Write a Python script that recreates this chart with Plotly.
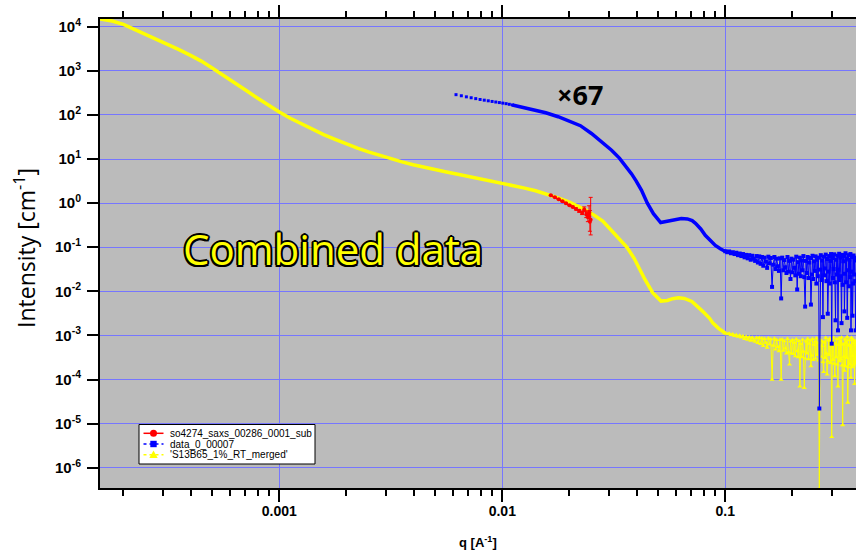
import plotly.graph_objects as go

# ---------------- data ----------------
# merged curve ('S13B65_1%_RT_merged'), smooth part up to q = 0.1
merged_q = [1.57e-4, 1.78e-4, 2.0e-4, 2.24e-4, 2.51e-4, 2.82e-4, 3.16e-4, 3.55e-4, 3.98e-4, 4.47e-4,
            5.0e-4, 5.62e-4, 6.31e-4, 7.08e-4, 7.94e-4, 8.91e-4, 1.0e-3, 1.12e-3, 1.26e-3, 1.41e-3,
            1.58e-3, 1.78e-3, 2.0e-3, 2.24e-3, 2.51e-3, 2.82e-3, 3.16e-3, 3.55e-3, 3.98e-3, 4.47e-3,
            5.0e-3, 5.62e-3, 6.31e-3, 7.08e-3, 7.94e-3, 8.91e-3, 1.0e-2, 1.12e-2, 1.26e-2, 1.41e-2,
            1.58e-2, 1.78e-2, 2.0e-2, 2.21e-2, 2.4e-2, 2.63e-2, 2.82e-2, 3.0e-2, 3.35e-2, 3.63e-2,
            3.9e-2, 4.11e-2, 4.36e-2, 4.72e-2, 5.15e-2, 5.5e-2, 5.8e-2, 6.17e-2, 6.55e-2, 7.08e-2,
            7.4e-2, 7.94e-2, 8.5e-2, 8.8e-2, 9.33e-2, 0.100]
merged_I = [14960, 13490, 11350, 8810, 6760, 5130, 3980, 3020, 2265, 1660,
            1160, 794, 537, 363, 245, 168, 116, 84, 62.4, 46.8,
            35.9, 27.9, 21.9, 17.6, 14.5, 12.0, 10.1, 8.6, 7.4, 6.46,
            5.69, 5.07, 4.52, 4.03, 3.59, 3.20, 2.82, 2.48, 2.19, 1.91,
            1.60, 1.32, 1.05, 0.83, 0.67, 0.50, 0.39, 0.28, 0.158, 0.098,
            0.056, 0.032, 0.0186, 0.0093, 0.0060, 0.0062, 0.0068, 0.0071, 0.0069, 0.0059,
            0.0049, 0.00347, 0.00245, 0.0019, 0.00145, 0.00112]

# high-q grid shared by both wide-angle series
tail_q = [0.100, 0.102, 0.104, 0.106, 0.108, 0.110, 0.112, 0.114, 0.116, 0.118,
          0.120, 0.122, 0.124, 0.126, 0.128, 0.130, 0.132, 0.134, 0.136, 0.138,
          0.140, 0.142, 0.144, 0.146, 0.148, 0.150, 0.152, 0.154, 0.156, 0.158,
          0.160, 0.162, 0.164, 0.166, 0.168, 0.170, 0.172, 0.174, 0.176, 0.178,
          0.180, 0.182, 0.184, 0.186, 0.188, 0.190, 0.192, 0.194, 0.196, 0.198,
          0.200, 0.202, 0.204, 0.206, 0.208, 0.210, 0.212, 0.214, 0.216, 0.218,
          0.220, 0.222, 0.224, 0.226, 0.228, 0.230, 0.232, 0.234, 0.236, 0.238,
          0.240, 0.242, 0.244, 0.246, 0.248, 0.250, 0.252, 0.254, 0.256, 0.258,
          0.260, 0.262, 0.264, 0.266, 0.268, 0.270, 0.272, 0.274, 0.276, 0.278,
          0.280, 0.282, 0.284, 0.286, 0.288, 0.290, 0.292, 0.294, 0.296, 0.298,
          0.300, 0.302, 0.304, 0.306, 0.308, 0.310, 0.312, 0.314, 0.316, 0.318,
          0.320, 0.322, 0.324, 0.326, 0.328, 0.330, 0.332, 0.334, 0.336, 0.338,
          0.340, 0.342, 0.344, 0.346, 0.348, 0.350, 0.352, 0.354, 0.356, 0.358,
          0.360, 0.362, 0.364, 0.366, 0.368, 0.370, 0.372, 0.374, 0.376, 0.378,
          0.380, 0.382, 0.384, 0.386]

merged_tail_I = [
    11.2e-4, 10.7e-4, 11.0e-4, 10.3e-4, 10.6e-4, 9.8e-4, 10.2e-4, 9.4e-4, 9.9e-4, 9.0e-4,
    9.6e-4, 8.3e-4, 9.3e-4, 8.0e-4, 9.1e-4, 7.6e-4, 8.9e-4, 7.8e-4, 7.2e-4, 8.8e-4,
    6.8e-4, 8.8e-4, 6.4e-4, 8.6e-4, 5.8e-4, 8.4e-4, 6.9e-4, 5.3e-4, 8.6e-4, 6.3e-4,
    8.2e-4, 1.0e-4, 5.9e-4, 8.5e-4, 4.8e-4, 7.9e-4, 5.5e-4, 4.4e-4, 8.0e-4, 1.0e-4,
    8.1e-4, 4.5e-4, 7.4e-4, 5.1e-4, 3.9e-4, 8.4e-4, 4.2e-4, 2.2e-4, 7.3e-4, 3.9e-4,
    7.9e-4, 3.8e-4, 6.9e-4, 3.4e-4, 8.2e-4, 4.4e-4, 3.2e-4, 7.5e-4, 0.7e-4, 6.4e-4,
    3.2e-4, 8.0e-4, 4.3e-4, 0.65e-4, 3.0e-4, 7.3e-4, 3.9e-4, 8.4e-4, 2.9e-4, 6.5e-4,
    7.7e-4, 2.0e-4, 3.5e-4, 8.3e-4, 2.8e-4, 6.1e-4, 7.2e-4, 3.0e-4, 8.6e-4, 3.6e-4,
    6.8e-4, 2.7e-4, 3.3e-7, 8.0e-4, 3.3e-4, 5.8e-4, 7.4e-4, 2.5e-4, 1.5e-4, 7.0e-4,
    3.1e-4, 8.8e-4, 3.9e-4, 1.3e-4, 2.6e-4, 7.7e-4, 3.6e-4, 8.4e-4, 2.4e-4, 6.4e-4,
    5.0e-6, 7.2e-4, 2.8e-4, 8.9e-4, 2.3e-4, 1.2e-4, 6.6e-4, 3.2e-4, 8.2e-4, 2.2e-4,
    0.7e-4, 6.1e-4, 8.6e-4, 2.6e-4, 7.3e-4, 2.9e-4, 9.0e-4, 2.1e-4, 9.3e-6, 6.3e-4,
    3.3e-4, 1.6e-4, 8.1e-4, 2.0e-4, 7.0e-4, 3.1e-4, 9.2e-4, 0.3e-4, 1.9e-4, 6.0e-4,
    7.8e-4, 2.2e-4, 5.8e-4, 1.1e-4, 8.8e-4, 1.9e-4, 3.4e-4, 8.0e-4, 2.1e-4, 6.8e-4,
    0.8e-4, 7.5e-4, 2.3e-4, 6.0e-4]

# data_0_00007 (scaled x67): sparse start, smooth part, then the high-q grid
waxs_start_q = [0.0062, 0.00655, 0.0069, 0.00725, 0.0076, 0.00795, 0.0083, 0.00865,
                0.0090, 0.00935, 0.0097, 0.01005, 0.0104, 0.01075, 0.0111]
waxs_start_I = [288, 272, 257, 245, 234, 224, 216, 209, 202, 196, 190.5, 185, 180, 174, 168]

waxs_q = [0.0111, 0.0126, 0.0141, 0.01567, 0.0178, 0.0204, 0.0224, 0.0251, 0.0282, 0.0309,
          0.0335, 0.0356, 0.0380, 0.0398, 0.0421, 0.0447, 0.0476, 0.0513, 0.0550, 0.0589,
          0.0635, 0.0676, 0.0710, 0.0735, 0.0776, 0.0813, 0.0860, 0.0902, 0.0950, 0.100]
waxs_I = [168, 145, 126, 112, 91, 70, 57, 38, 24, 15.8,
          10.5, 7.2, 4.6, 3.2, 1.95, 1.0, 0.575, 0.363, 0.39, 0.427,
          0.447, 0.437, 0.40, 0.347, 0.26, 0.186, 0.135, 0.110, 0.092, 0.080]

waxs_tail_I = [
    0.081, 0.077, 0.080, 0.073, 0.077, 0.070, 0.075, 0.066, 0.072, 0.063,
    0.070, 0.059, 0.067, 0.056, 0.066, 0.052, 0.064, 0.055, 0.049, 0.063,
    0.045, 0.062, 0.042, 0.060, 0.038, 0.058, 0.047, 0.034, 0.061, 0.043,
    0.057, 0.0126, 0.040, 0.060, 0.032, 0.055, 0.037, 0.029, 0.056, 0.0069,
    0.058, 0.030, 0.051, 0.035, 0.026, 0.060, 0.028, 0.049, 0.019, 0.055,
    0.027, 0.052, 0.034, 0.023, 0.061, 0.011, 0.046, 0.025, 0.058, 0.022,
    0.050, 0.030, 0.063, 0.021, 0.0045, 0.049, 0.026, 0.060, 0.020, 0.045,
    0.057, 0.005, 0.024, 0.064, 0.019, 0.048, 0.029, 0.062, 0.015, 0.052,
    0.022, 0.058, 2.2e-5, 0.031, 0.066, 0.018, 0.050, 0.0026, 0.061, 0.023,
    0.033, 0.068, 0.017, 0.054, 0.0031, 0.028, 0.063, 0.015, 0.049, 0.070,
    0.00065, 0.057, 0.020, 0.032, 0.069, 0.016, 0.0022, 0.052, 0.024, 0.064,
    0.0013, 0.031, 0.071, 0.018, 0.058, 0.022, 0.0019, 0.067, 0.014, 0.048,
    0.062, 0.0035, 0.025, 0.073, 0.016, 0.055, 0.0025, 0.030, 0.066, 0.013,
    0.052, 0.021, 0.070, 0.0013, 0.028, 0.060, 0.0028, 0.015, 0.065, 0.024,
    0.058, 0.017, 0.0013, 0.050]

# so4274_saxs_00286_0001_sub with asymmetric error bars
saxs_q = [0.0165, 0.0172, 0.0179, 0.0186, 0.0193, 0.0200, 0.0207, 0.0214, 0.0221, 0.0228,
          0.0233, 0.0238, 0.0242, 0.0245, 0.0247, 0.0249]
saxs_I = [1.50, 1.36, 1.22, 1.10, 0.99, 0.90, 0.82, 0.74, 0.67, 0.60,
          0.72, 0.55, 0.48, 0.62, 0.38, 0.42]
saxs_err_plus = [0.03, 0.03, 0.03, 0.03, 0.03, 0.03, 0.03, 0.04, 0.05, 0.06,
                 0.10, 0.12, 0.15, 0.25, 0.30, 0.93]
saxs_err_minus = [0.03, 0.03, 0.03, 0.03, 0.03, 0.03, 0.03, 0.04, 0.05, 0.05,
                  0.06, 0.08, 0.10, 0.12, 0.15, 0.23]

legend_names = ["so4274_saxs_00286_0001_sub", "data_0_00007", "'S13B65_1%_RT_merged'"]

x_major = [0.001, 0.01, 0.1]
x_major_text = ["0.001", "0.01", "0.1"]
y_major_exp = [4, 3, 2, 1, 0, -1, -2, -3, -4, -5, -6]

# ---------------- styling ----------------
RED = "#ff0000"
BLUE = "#0000ff"
YELLOW = "#ffff00"
GRID = "rgb(118,118,255)"
TICK_FONT = "Liberation Sans, Arial, sans-serif"
TEXT_FONT = "Open Sans, Noto Sans, sans-serif"

W, H = 856, 550
M_L, M_R, M_T, M_B = 100, 0, 19, 62
PLOT_W = W - M_L - M_R
PLOT_H = H - M_T - M_B


def px(xp):
    """page pixel x -> paper x"""
    return (xp - M_L) / PLOT_W


def py(yp):
    """page pixel y -> paper y"""
    return (H - M_B - yp) / PLOT_H


fig = go.Figure()

# merged curve
fig.add_trace(go.Scatter(x=merged_q, y=merged_I, mode="lines",
                         line=dict(color=YELLOW, width=3.5), showlegend=False))
fig.add_trace(go.Scatter(x=tail_q, y=merged_tail_I, mode="lines+markers",
                         line=dict(color=YELLOW, width=1),
                         marker=dict(symbol="triangle-up", size=4.5, color=YELLOW),
                         showlegend=False))

# wide-angle curve (x67)
fig.add_trace(go.Scatter(x=waxs_start_q, y=waxs_start_I, mode="markers",
                         marker=dict(symbol="square", size=3, color=BLUE), showlegend=False))
fig.add_trace(go.Scatter(x=waxs_q, y=waxs_I, mode="lines",
                         line=dict(color=BLUE, width=3.5), showlegend=False))
fig.add_trace(go.Scatter(x=tail_q, y=waxs_tail_I, mode="lines+markers",
                         line=dict(color=BLUE, width=1),
                         marker=dict(symbol="square", size=4, color=BLUE),
                         showlegend=False))

# SAXS segment
fig.add_trace(go.Scatter(x=saxs_q, y=saxs_I, mode="lines+markers",
                         line=dict(color=RED, width=1.5),
                         marker=dict(symbol="circle", size=4, color=RED),
                         error_y=dict(type="data", symmetric=False, array=saxs_err_plus,
                                      arrayminus=saxs_err_minus, color=RED,
                                      thickness=1, width=2),
                         showlegend=False))

minor_x = [m * 10.0 ** e for e in (-4, -3, -2, -1) for m in range(2, 10)]

fig.update_xaxes(
    type="log", range=[-3.804, -0.414],
    tickmode="array", tickvals=x_major, ticktext=[f"<b>{t}</b>" for t in x_major_text],
    ticks="outside", ticklen=12, tickwidth=2, tickcolor="black",
    ticklabelstandoff=-3,
    tickfont=dict(family=TICK_FONT, size=14, color="black"),
    showline=True, linewidth=2, linecolor="black", mirror="ticks",
    showgrid=True, gridcolor=GRID, gridwidth=1,
    minor=dict(tickmode="array", tickvals=minor_x, ticks="outside", ticklen=6,
               tickwidth=1.5, tickcolor="black", showgrid=False),
    zeroline=False,
)
fig.update_yaxes(
    type="log", range=[-6.46, 4.175],
    tickmode="array", tickvals=[10.0 ** e for e in y_major_exp],
    ticktext=[f"<b>10<sup>{e}</sup></b>" for e in y_major_exp],
    ticks="outside", ticklen=11, tickwidth=2, tickcolor="black",
    ticklabelstandoff=3,
    tickfont=dict(family=TICK_FONT, size=15, color="black"),
    showline=True, linewidth=2, linecolor="black", mirror=False,
    showgrid=True, gridcolor=GRID, gridwidth=1,
    zeroline=False,
)

# ---------------- legend box ----------------
shapes = [dict(type="rect", xref="paper", yref="paper",
               x0=px(139), x1=px(315), y0=py(464), y1=py(424.5),
               fillcolor="white", line=dict(color="black", width=1), layer="above")]
annotations = []
row_y = [433.3, 444.0, 454.7]
line_x0, line_x1, mark_x, text_x = 143.5, 163.5, 153.5, 167.5
legend_lines = [dict(color=RED, width=1.5, dash="solid"),
                dict(color=BLUE, width=1.5, dash="dot"),
                dict(color=YELLOW, width=1.5, dash="dot")]
for name, ln, ry in zip(legend_names, legend_lines, row_y):
    shapes.append(dict(type="line", xref="paper", yref="paper",
                       x0=px(line_x0), x1=px(line_x1), y0=py(ry), y1=py(ry),
                       line=ln, layer="above"))
    annotations.append(dict(text=name, xref="paper", yref="paper",
                            x=px(text_x), y=py(ry), xanchor="left", yanchor="middle",
                            showarrow=False,
                            font=dict(family=TICK_FONT, size=10, color="black")))
# legend symbols: circle, square, triangle
ry = row_y[0]
shapes.append(dict(type="circle", xref="paper", yref="paper",
                   x0=px(mark_x - 3.5), x1=px(mark_x + 3.5), y0=py(ry + 3.5), y1=py(ry - 3.5),
                   fillcolor=RED, line=dict(color=RED, width=0), layer="above"))
ry = row_y[1]
shapes.append(dict(type="rect", xref="paper", yref="paper",
                   x0=px(mark_x - 3.2), x1=px(mark_x + 3.2), y0=py(ry + 3.2), y1=py(ry - 3.2),
                   fillcolor=BLUE, line=dict(color=BLUE, width=0), layer="above"))
ry = row_y[2]
tri = (f"M {px(mark_x - 4.2)} {py(ry + 3.2)} L {px(mark_x + 4.2)} {py(ry + 3.2)} "
       f"L {px(mark_x)} {py(ry - 4.2)} Z")
shapes.append(dict(type="path", xref="paper", yref="paper", path=tri,
                   fillcolor=YELLOW, line=dict(color=YELLOW, width=0), layer="above"))

outline = ("2px 0 0 #000, -2px 0 0 #000, 0 2px 0 #000, 0 -2px 0 #000, "
           "1.5px 1.5px 0 #000, -1.5px -1.5px 0 #000, 1.5px -1.5px 0 #000, -1.5px 1.5px 0 #000")

annotations += [
    dict(text="Intensity [cm<sup>-1</sup>]", xref="paper", yref="paper",
         x=px(25), y=py(248), textangle=-90, showarrow=False,
         xanchor="center", yanchor="middle",
         font=dict(family=TEXT_FONT, size=23, color="black")),
    dict(text="<b>q [A<sup>-1</sup>]</b>", xref="paper", yref="paper",
         x=px(478), y=py(542), showarrow=False, xanchor="center", yanchor="middle",
         font=dict(family=TICK_FONT, size=13, color="black")),
    dict(text="<b>×67</b>", xref="paper", yref="paper",
         x=px(580), y=py(95), showarrow=False, xanchor="center", yanchor="middle",
         font=dict(family=TEXT_FONT, size=27, color="black")),
    dict(text="Combined data", xref="paper", yref="paper",
         x=px(333), y=py(248), showarrow=False, xanchor="center", yanchor="middle",
         font=dict(family=TEXT_FONT, size=42, color=YELLOW, shadow=outline)),
]

fig.update_layout(
    width=W, height=H,
    margin=dict(l=M_L, r=M_R, t=M_T, b=M_B),
    paper_bgcolor="white", plot_bgcolor="#bbbbbb",
    showlegend=False,
    shapes=shapes,
    annotations=annotations,
)

fig.write_html("out.html")
